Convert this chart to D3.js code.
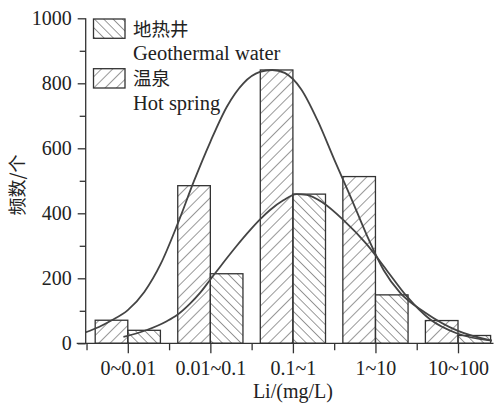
<!DOCTYPE html>
<html><head><meta charset="utf-8">
<script src="https://cdn.jsdelivr.net/npm/d3@7"></script>
<style>
body{margin:0;background:#fff;}
svg text{font-family:"Liberation Serif","Times New Roman",serif;fill:#222;}
.cjk{font-family:"Noto Sans CJK SC","Noto Sans CJK JP",sans-serif;}
</style>
</head><body>
<svg id="c" width="496" height="404"></svg>
<script>
const categories = ["0~0.01","0.01~0.1","0.1~1","1~10","10~100"];
// taller series (/// hatch)
const seriesA = [71, 485, 841, 513, 70];
// shorter series (\\\ hatch)
const seriesB = [40, 214, 459, 149, 24];
const yTicks = [0,200,400,600,800,1000];
// fitted curves: [category position, count]
const curveA = [[-0.508,34],[-0.35,50],[-0.2,70],[0,102],[0.2,158],[0.4,245],[0.6,365],[0.8,498],[1.0,620],[1.2,728],[1.4,800],[1.6,835],[1.75,841],[1.9,832],[2.1,782],[2.3,685],[2.5,566],[2.7,450],[2.9,330],[3.1,225],[3.3,155],[3.6,95],[4.0,38],[4.41,8]];
const curveB = [[-0.053,20],[0.23,41],[0.472,68],[0.597,87],[0.754,122],[0.875,155],[0.996,195],[1.117,235],[1.32,300],[1.481,348],[1.602,381],[1.723,410],[1.884,440],[2.046,459],[2.167,457],[2.368,432],[2.61,380],[2.893,305],[3.136,225],[3.378,145],[3.66,74],[3.983,31],[4.41,8]];
const legendLabels = [["地热井","Geothermal water"],["温泉","Hot spring"]];

const svg = d3.select("#c");
const L = 85.7, R = 493.5, T = 18.3, B = 343.3;
const x = d3.scaleLinear().domain([-0.51, 4.43]).range([L, R]);
const y = d3.scaleLinear().domain([0, 1000]).range([B, T]);
const barW = x(0.395) - x(0);

const defs = svg.append("defs");
function hatch(id, angle, p){
  const pat = defs.append("pattern").attr("id", id).attr("patternUnits","userSpaceOnUse")
    .attr("width", p).attr("height", p).attr("patternTransform", `rotate(${angle})`);
  pat.append("line").attr("x1",0).attr("y1",-1).attr("x2",0).attr("y2",p+1)
    .attr("stroke","#333").attr("stroke-width",1);
}
hatch("hA", 45, 8);
hatch("hB", -45, 6.6);

// bars
const g = svg.append("g");
g.selectAll(".ba").data(seriesA).join("rect")
  .attr("x",(d,i)=>x(i)-barW).attr("y",d=>y(d)).attr("width",barW).attr("height",d=>y(0)-y(d))
  .attr("fill","url(#hA)").attr("stroke","#333").attr("stroke-width",1.3);
g.selectAll(".bb").data(seriesB).join("rect")
  .attr("x",(d,i)=>x(i)).attr("y",d=>y(d)).attr("width",barW).attr("height",d=>y(0)-y(d))
  .attr("fill","url(#hB)").attr("stroke","#333").attr("stroke-width",1.3);

// curves
const line = d3.line().x(d=>x(d[0])).y(d=>y(d[1])).curve(d3.curveMonotoneX);
[curveA, curveB].forEach(c=>{
  svg.append("path").datum(c).attr("d", line).attr("fill","none")
    .attr("stroke","#444").attr("stroke-width",1.8);
});

// y axis
const ya = svg.append("g").attr("transform",`translate(${L},0)`)
  .call(d3.axisLeft(y).tickValues(yTicks).tickSize(8).tickPadding(6).tickFormat(d3.format("d")));
svg.append("g").attr("transform",`translate(${L},0)`)
  .call(d3.axisLeft(y).tickValues(d3.range(100,1000,200)).tickSize(6).tickFormat(""))
  .select(".domain").remove();
// x axis
const xa = svg.append("g").attr("transform",`translate(0,${B})`)
  .call(d3.axisBottom(x).tickValues(d3.range(0,5)).tickSize(10).tickPadding(8).tickFormat(i=>categories[i]));
xa.select(".domain").attr("d",`M${L-9},0H${R}`);
svg.append("g").attr("transform",`translate(0,${B})`)
  .call(d3.axisBottom(x).tickValues([-0.5,0.5,1.5,2.5,3.5]).tickSize(7).tickFormat(""))
  .select(".domain").remove();
svg.selectAll(".tick line, .domain").attr("stroke","#333").attr("stroke-width",1.3);
svg.selectAll(".tick text").attr("font-size",20).attr("fill","#222")
  .style("font-family",'"Liberation Serif",serif');
ya.select(".domain").attr("d",`M0,${B}V${T}`);

// axis titles
svg.append("text").attr("x", x(2)).attr("y", 398).attr("text-anchor","middle")
  .attr("font-size",20).text("Li/(mg/L)");
svg.append("text").attr("class","cjk").attr("transform","translate(24,185) rotate(-90)")
  .attr("text-anchor","middle").attr("font-size",18).text("频数/个");

// legend
const legY = [19, 68.7];
["hB","hA"].forEach((id,k)=>{
  svg.append("rect").attr("x",93.5).attr("y",legY[k]).attr("width",31.5).attr("height",19.3)
    .attr("fill",`url(#${id})`).attr("stroke","#333").attr("stroke-width",1.3);
  svg.append("text").attr("class","cjk").attr("x",133).attr("y",legY[k]+16.5)
    .attr("font-size",18.5).text(legendLabels[k][0]);
  svg.append("text").attr("x",133).attr("y",legY[k]+41).attr("font-size",20.5).text(legendLabels[k][1]);
});
</script>
</body></html>
